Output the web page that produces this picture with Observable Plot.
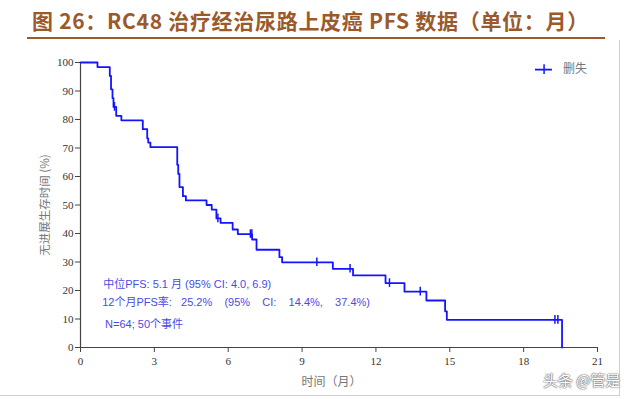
<!DOCTYPE html>
<html>
<head>
<meta charset="utf-8">
<script src="https://cdn.jsdelivr.net/npm/d3@7"></script>
<script src="https://cdn.jsdelivr.net/npm/@observablehq/plot@0.6"></script>
<style>
  html, body { margin: 0; padding: 0; background: #fff; }
  #wrap { position: relative; width: 640px; height: 399px; overflow: hidden; font-family: "Noto Sans CJK SC", "Noto Sans", sans-serif; }
  #title { position: absolute; left: 32px; top: 5px; font-size: 21px; font-weight: bold; color: #9b5a2c; white-space: nowrap; letter-spacing: 0.7px; }
  #rule { position: absolute; left: 27px; top: 37px; width: 578px; height: 2px; background: #9b5a2c; }
  #box { position: absolute; left: 0; top: 40px; width: 619px; height: 355px; border-right: 1px solid #d0d0d0; border-bottom: 1px solid #d0d0d0; }
  #chart { position: absolute; left: 0; top: 40px; }
  #wm { position: absolute; left: 543px; top: 369px; font-size: 15px; color: #fff; text-shadow: 0 0 2px #555, 0 0 1px #333; white-space: nowrap; }
</style>
</head>
<body>
<div id="wrap">
  <div id="title">图 26：RC48 治疗经治尿路上皮癌 PFS 数据（单位：月）</div>
  <div id="rule"></div>
  <div id="box"></div>
  <div id="chart"></div>
  <div id="wm">头条 @管是</div>
</div>
<script>
// Kaplan–Meier step points: time (months) and survival (%) after each step
const stepTimes = [0, 0.69, 1.19, 1.24, 1.30, 1.34, 1.45, 1.66, 2.53, 2.71, 2.75, 2.84, 3.93, 3.97, 4.02, 4.16, 4.28, 5.12, 5.33, 5.52, 5.69, 6.18, 6.39, 6.97, 7.15, 8.08, 8.19, 10.25, 11.07, 12.39, 13.16, 14.05, 14.81, 14.88, 19.56];
const stepSurv  = [100, 98.4, 95.3, 90.6, 87.5, 84.4, 81.3, 79.7, 76.6, 73.4, 71.9, 70.3, 64.1, 60.9, 56.3, 53.1, 51.6, 50.0, 48.4, 45.3, 43.7, 41.4, 39.8, 37.9, 34.3, 31.7, 29.9, 27.6, 25.3, 22.6, 19.6, 16.5, 12.7, 9.7, 0];
// Censored observations
const censorTimes = [1.38, 5.58, 6.90, 6.96, 9.60, 10.95, 12.55, 13.80, 19.27, 19.39];
const censorSurv  = [84.4, 45.3, 39.8, 39.8, 29.9, 27.6, 22.6, 19.6, 9.7, 9.7];
// Axis ticks
const xTicks = [0, 3, 6, 9, 12, 15, 18, 21];
const yTicks = [0, 10, 20, 30, 40, 50, 60, 70, 80, 90, 100];
// Texts
const yLabel = "无进展生存时间 (%)";
const xLabel = "时间（月）";
const notes = ["中位PFS: 5.1 月 (95% CI: 4.0, 6.9)", "12个月PFS率:   25.2%    (95%    CI:    14.4%,    37.4%)", "N=64; 50个事件"];
const legendLabel = "删失";

const steps = stepTimes.map((t, i) => ({t, s: stepSurv[i]}));
const censors = censorTimes.map((t, i) => ({t, s: censorSurv[i]}));
const blue = "#1414ff";
const noteColor = "#4a4ae6";

const chart = Plot.plot({
  width: 640,
  height: 356,
  marginTop: 22,
  marginBottom: 49,
  marginLeft: 80,
  marginRight: 43,
  style: {fontFamily: "'Liberation Serif', serif", fontSize: "11px", color: "#333", background: "transparent", overflow: "visible"},
  x: {domain: [0, 21]},
  y: {domain: [0, 100]},
  marks: [
    Plot.axisX({ticks: xTicks, tickSize: 5, tickPadding: 5, fontSize: 11, label: null, stroke: "#444"}),
    Plot.axisY({ticks: yTicks, tickSize: 5, tickPadding: 2, fontSize: 11, label: null, stroke: "#444"}),
    Plot.ruleY([0], {x1: 0, x2: 21, stroke: "#444", strokeWidth: 1.2}),
    Plot.ruleX([0], {y1: 0, y2: 100, stroke: "#444", strokeWidth: 1.2}),
    Plot.line(steps, {x: "t", y: "s", curve: "step-after", stroke: blue, strokeWidth: 1.8}),
    Plot.ruleX(censors, {x: "t", y1: d => d.s - 1.5, y2: d => d.s + 1.5, stroke: blue, strokeWidth: 1.5}),
    // axis titles
    Plot.text([yLabel], {x: 0, y: 50, text: d => d, rotate: -90, dx: -35, fill: "#777", fontSize: 11.5, fontFamily: "'Noto Sans CJK SC', sans-serif"}),
    Plot.text([xLabel], {x: 10.2, y: 0, text: d => d, dy: 35, fill: "#777", fontSize: 12, fontFamily: "'Noto Sans CJK SC', sans-serif"}),
    // annotations
    Plot.text([notes[0]], {x: 0.92, y: 22.1, text: d => d, textAnchor: "start", fill: noteColor, fontSize: 11, fontFamily: "'Liberation Sans', 'Noto Sans CJK SC', sans-serif"}),
    Plot.text([notes[1]], {x: 0.88, y: 15.8, text: d => d, textAnchor: "start", fill: noteColor, fontSize: 11, fontFamily: "'Liberation Sans', 'Noto Sans CJK SC', sans-serif"}),
    Plot.text([notes[2]], {x: 1.0, y: 8.1, text: d => d, textAnchor: "start", fill: noteColor, fontSize: 11, fontFamily: "'Liberation Sans', 'Noto Sans CJK SC', sans-serif"}),
    // legend
    Plot.ruleY([97.5], {x1: 18.48, x2: 19.17, stroke: blue, strokeWidth: 1.8}),
    Plot.ruleX([18.83], {y1: 95.8, y2: 99.2, stroke: blue, strokeWidth: 1.5}),
    Plot.text([legendLabel], {x: 19.6, y: 97.5, text: d => d, textAnchor: "start", fill: "#777", fontSize: 12, fontFamily: "'Noto Sans CJK SC', sans-serif"})
  ]
});
document.getElementById("chart").appendChild(chart);
</script>
</body>
</html>
